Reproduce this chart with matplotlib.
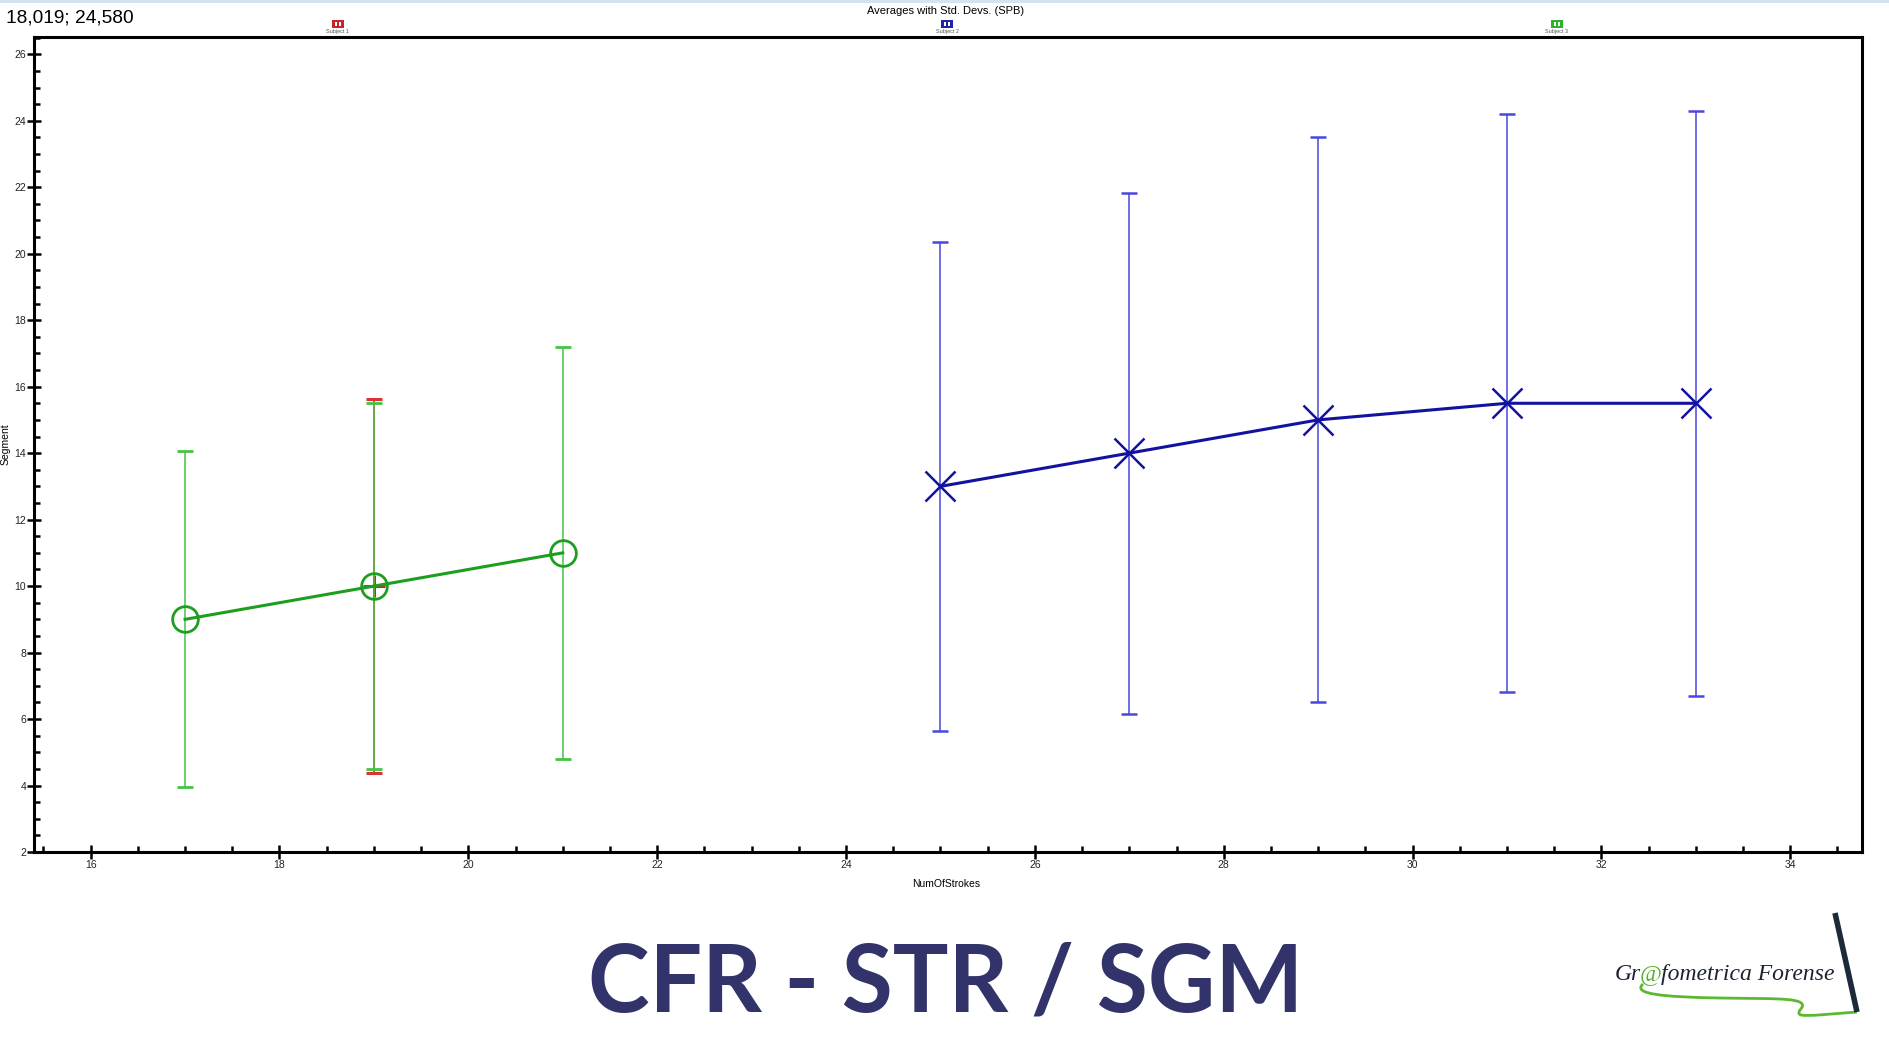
import matplotlib
matplotlib.use("Agg")
import matplotlib.pyplot as plt
from matplotlib.ticker import MultipleLocator
from matplotlib.patches import Rectangle, PathPatch
from matplotlib.path import Path
from matplotlib.lines import Line2D

# datos (media +/- desv. estándar)
subj1_x = [19]
subj1_y = [10]
subj1_sd = [5.63]

subj2_x = [25, 27, 29, 31, 33]
subj2_y = [13, 14, 15, 15.5, 15.5]
subj2_sd = [7.35, 7.84, 8.5, 8.69, 8.8]

subj3_x = [17, 19, 21]
subj3_y = [9, 10, 11]
subj3_sd = [5.05, 5.5, 6.2]

legend_names = ["Subject 1", "Subject 2", "Subject 3"]
legend_colors = ["#c8242c", "#2222a8", "#2ab42a"]
legend_px = [338, 947, 1557]

W, H = 1890, 1063


def fx(px):
    return px / W


def fy(py):
    return 1 - py / H


plt.rcParams["font.family"] = ["Liberation Sans", "DejaVu Sans"]

fig = plt.figure(figsize=(18.9, 10.63), dpi=100)
fig.patch.set_facecolor("white")
ax = fig.add_axes([fx(34), fy(852), fx(1862) - fx(34), fy(37) - fy(852)])

# Subject 1 (rojo, casi tapado por el verde)
ax.errorbar(subj1_x, subj1_y, yerr=subj1_sd, fmt="+", color="#b8302a",
            ecolor="#dd3333", elinewidth=1.2, capsize=5.5, capthick=1.2,
            ms=16, mew=2.2, zorder=2)
# Subject 3 (verde)
ax.errorbar(subj3_x, subj3_y, yerr=subj3_sd, fmt="-o", color="#1e9e1e",
            mfc="none", ms=18.5, mew=2, lw=2.2,
            ecolor="#44c444", elinewidth=1.1, capsize=5.5, capthick=1.1, zorder=3)
# Subject 2 (azul)
ax.errorbar(subj2_x, subj2_y, yerr=subj2_sd, fmt="-x", color="#1212a0",
            ms=21, mew=1.8, lw=2.2,
            ecolor="#4848e0", elinewidth=1.1, capsize=6, capthick=1.1, zorder=3)

ax.set_xlim(15.4, 34.76)
ax.set_ylim(2, 26.52)
ax.xaxis.set_major_locator(MultipleLocator(2))
ax.xaxis.set_minor_locator(MultipleLocator(0.5))
ax.yaxis.set_major_locator(MultipleLocator(2))
ax.yaxis.set_minor_locator(MultipleLocator(0.5))
ax.tick_params(which="major", direction="inout", length=9.5, width=1.8,
               labelsize=7.5, pad=1, colors="black", labelcolor="#222")
ax.tick_params(which="minor", direction="in", length=4.5, width=1.8)
for s in ax.spines.values():
    s.set_linewidth(2.2)

ax.set_xlabel("NumOfStrokes", fontsize=7.5)
ax.xaxis.set_label_coords(0.499, -0.033)
ax.set_ylabel("Segment", fontsize=7.5)
ax.yaxis.set_label_coords(-0.013, 0.5)

# cabecera
fig.add_artist(Rectangle((0, fy(3)), 1, 3 / H, transform=fig.transFigure,
                         color="#d4e3f1", lw=0))
fig.text(fx(6), fy(18), "18,019; 24,580", fontsize=13.8, va="center", ha="left")
fig.text(fx(946), fy(11), "Averages with Std. Devs. (SPB)", fontsize=8,
         va="center", ha="center")
for name, col, px in zip(legend_names, legend_colors, legend_px):
    fig.add_artist(Rectangle((fx(px - 6), fy(28)), 12 / W, 8 / H,
                             transform=fig.transFigure, color=col, lw=0))
    fig.add_artist(Rectangle((fx(px - 3), fy(26)), 2 / W, 4 / H,
                             transform=fig.transFigure, color="white", lw=0))
    fig.add_artist(Rectangle((fx(px + 1), fy(26)), 2 / W, 4 / H,
                             transform=fig.transFigure, color="white", lw=0))
    fig.text(fx(px), fy(32), name, fontsize=4, color="#555", ha="center", va="center")

# título inferior
fig.text(fx(946), fy(985), "CFR - STR / SGM", fontsize=67, fontweight="bold",
         family="Lato", color="#32336a", ha="center", va="center")

# logo
t1 = fig.text(fx(1615), fy(980), "Gr", fontsize=17, style="italic",
              family="Liberation Serif", color="#1c2233", va="baseline")
ann1 = plt.annotate("@", xy=(0.95, 0), xycoords=t1, fontsize=17, style="italic",
                    family="Liberation Serif", color="#55b030", va="bottom",
                    annotation_clip=False)
ann2 = plt.annotate("fometrica Forense", xy=(0.95, 0), xycoords=ann1, fontsize=17,
                    style="italic", family="Liberation Serif", color="#1c2233",
                    va="bottom", annotation_clip=False)

pts = [(1643, 984), (1632, 994), (1662, 997), (1720, 998),
       (1780, 999), (1812, 997), (1800, 1010),
       (1795, 1018), (1805, 1016), (1857, 1012)]
codes = [Path.MOVETO] + [Path.CURVE4] * 9
swoosh = Path([(fx(x), fy(y)) for x, y in pts], codes)
fig.add_artist(PathPatch(swoosh, transform=fig.transFigure, fill=False,
                         edgecolor="#5cb82e", lw=2))
fig.add_artist(Line2D([fx(1835), fx(1857)], [fy(913), fy(1012)],
                      transform=fig.transFigure, color="#1c2a3a", lw=4,
                      solid_capstyle="butt"))

fig.savefig("out.png", dpi=100)
